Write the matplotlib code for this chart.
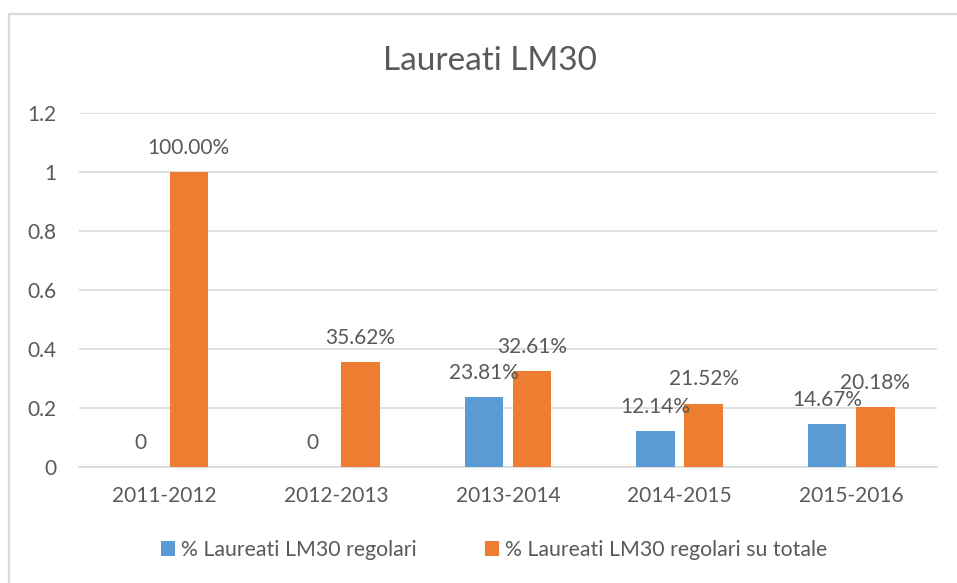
import matplotlib
matplotlib.use("Agg")
import matplotlib.pyplot as plt
from matplotlib.lines import Line2D
from matplotlib.patches import Patch
import numpy as np

plt.rcParams['font.family'] = ['Lato', 'DejaVu Sans']

categories = ["2011-2012", "2012-2013", "2013-2014", "2014-2015", "2015-2016"]
regolari = [0.0, 0.0, 0.2381, 0.1214, 0.1467]
regolari_labels = ["0", "0", "23.81%", "12.14%", "14.67%"]
su_totale = [1.0, 0.3562, 0.3261, 0.2152, 0.2018]
su_totale_labels = ["100.00%", "35.62%", "32.61%", "21.52%", "20.18%"]
series_names = ["% Laureati LM30 regolari", "% Laureati LM30 regolari su totale"]
yticks = [0, 0.2, 0.4, 0.6, 0.8, 1, 1.2]
ytick_labels = ["0", "0.2", "0.4", "0.6", "0.8", "1", "1.2"]

BLUE = "#5B9BD5"
ORANGE = "#ED7D31"
TEXT = "#595959"
GRID = "#D9D9D9"

W, H = 957, 583
fig = plt.figure(figsize=(W / 100, H / 100), dpi=100)
ax = fig.add_axes([79 / W, 1 - 467 / H, (937 - 79) / W, (467 - 113) / H])

x = np.arange(len(categories))
bw = 0.225
off = 0.14
b1 = ax.bar(x - off, regolari, bw, color=BLUE, zorder=3)
b2 = ax.bar(x + off, su_totale, bw, color=ORANGE, zorder=3)

for rect, lab in zip(b1, regolari_labels):
    ax.annotate(lab, (rect.get_x() + rect.get_width() / 2, rect.get_height()),
                xytext=(0, 13), textcoords="offset points", ha="center",
                va="baseline", fontsize=15, color=TEXT)
for rect, lab in zip(b2, su_totale_labels):
    ax.annotate(lab, (rect.get_x() + rect.get_width() / 2, rect.get_height()),
                xytext=(0, 13), textcoords="offset points", ha="center",
                va="baseline", fontsize=15, color=TEXT)

ax.set_xlim(-0.5, len(categories) - 0.5)
ax.set_ylim(0, 1.2)
ax.set_yticks(yticks)
ax.set_yticklabels(ytick_labels)
ax.set_xticks(x)
ax.set_xticklabels(categories)
ax.tick_params(axis="both", length=0, labelsize=15, colors=TEXT)
ax.tick_params(axis="y", pad=16)
ax.tick_params(axis="x", pad=14)
ax.yaxis.grid(True, color=GRID, linewidth=1.2, zorder=0)
for s in ["left", "right", "top"]:
    ax.spines[s].set_visible(False)
ax.spines["bottom"].set_color(GRID)
ax.spines["bottom"].set_linewidth(1.2)
ax.spines["bottom"].set_zorder(2)

fig.text(490 / W, 1 - 61 / H, "Laureati LM30", ha="center",
         va="center", fontsize=24, color=TEXT)

handles = [Patch(facecolor=BLUE), Patch(facecolor=ORANGE)]
fig.legend(handles, series_names, loc="center", bbox_to_anchor=(494 / W, 1 - 550 / H),
           ncol=2, frameon=False, fontsize=15.3, labelcolor=TEXT,
           handlelength=0.65, handleheight=0.65, handletextpad=0.3,
           columnspacing=3.2)

fig.add_artist(Line2D([9 / W, 9 / W, 1], [0, 1 - 14 / H, 1 - 14 / H],
                      transform=fig.transFigure, color=GRID, linewidth=1.6))

fig.savefig("out.png", dpi=100, facecolor="white")
